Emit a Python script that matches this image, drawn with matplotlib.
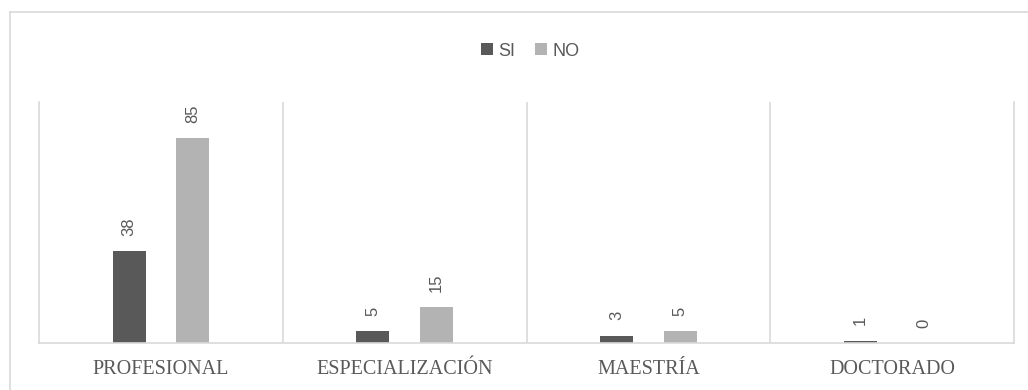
import matplotlib.pyplot as plt
import numpy as np

categories = ['PROFESIONAL', 'ESPECIALIZACIÓN', 'MAESTRÍA', 'DOCTORADO']
si_values = [38, 5, 3, 1]
no_values = [85, 15, 5, 0]
series_names = ['SI', 'NO']

W, H = 1028, 390
fig = plt.figure(figsize=(W / 100, H / 100), dpi=100)

# outer chart border (only top and left visible)
fig.add_artist(plt.Line2D([10 / W, 10 / W], [0, 1 - 12 / H], transform=fig.transFigure,
                          color='#d9d9d9', lw=1.2))
fig.add_artist(plt.Line2D([10 / W, 1], [1 - 12 / H, 1 - 12 / H], transform=fig.transFigure,
                          color='#d9d9d9', lw=1.2))

ax = fig.add_axes([39 / W, 1 - 343 / H, 975 / W, 241 / H])
x = np.arange(len(categories))
bw = 0.135
off = 0.13
b1 = ax.bar(x - off, si_values, bw, color='#595959', label=series_names[0])
b2 = ax.bar(x + off, no_values, bw, color='#b3b3b3', label=series_names[1])

for bars in (b1, b2):
    for rect in bars:
        v = rect.get_height()
        ax.annotate(f'{int(v)}', (rect.get_x() + rect.get_width() / 2, v),
                    xytext=(0, 11), textcoords='offset points', rotation=90,
                    ha='center', va='bottom', fontsize=12, color='#595959',
                    family='Liberation Sans')

ax.set_xlim(-0.5, len(categories) - 0.5)
ax.set_ylim(0, 100)
ax.set_yticks([])
ax.set_xticks(x)
ax.set_xticklabels(categories, family='Liberation Serif', fontsize=14.5, color='#595959')
ax.tick_params(axis='x', length=0, pad=12)
ax.spines['top'].set_visible(False)
for s in ['left', 'right', 'bottom']:
    ax.spines[s].set_color('#d9d9d9')
    ax.spines[s].set_linewidth(1.2)
for sep in x[:-1] + 0.5:
    ax.axvline(sep, color='#d9d9d9', lw=1.2)

fig.legend(loc='center', bbox_to_anchor=(530 / W, 1 - 51 / H), ncol=2, frameon=False,
           handlelength=0.65, handleheight=0.65, handletextpad=0.3, columnspacing=1.1,
           prop={'family': 'Liberation Sans', 'size': 13}, labelcolor='#595959')

fig.savefig('out.png', dpi=100)
